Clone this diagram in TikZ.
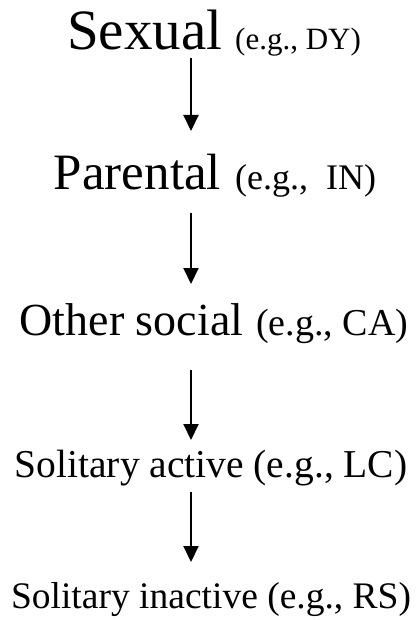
\documentclass[tikz,border=0pt]{standalone}
\usepackage{fontspec}
\setmainfont{Liberation Serif}
\usetikzlibrary{arrows.meta}
\newcommand{\fs}[1]{\fontsize{#1}{#1}\selectfont}

\begin{document}
\begin{tikzpicture}[x=1pt,y=-1pt,
  row/.style={anchor=base,inner sep=0pt},
  flow/.style={-{Triangle[length=16pt,width=15pt]},line width=2pt}]
        \useasboundingbox (0,0) rectangle (419,620);
        \coordinate (ax) at (191,0);
        \node[row] (sexual) at (214,50) {\fs{57}Sexual\hspace{13pt}\fs{31}(e.g., DY)};
        \node[row] (parental) at (215,190) {\fs{51}Parental\hspace{14pt}\fs{36}(e.g.,~~IN)};
        \node[row] (othersocial) at (214,335) {\fs{46}Other social\hspace{13pt}\fs{38}(e.g., CA)};
        \node[row] (solactive) at (211,477) {\fs{39.5}Solitary active (e.g., LC)};
        \node[row] (solinactive) at (211,608) {\fs{37.5}Solitary inactive (e.g., RS)};
        \draw[flow, shorten <=8pt, shorten >=59pt] (sexual.base -| ax) -- (parental.base -| ax);
        \draw[flow, shorten <=23pt, shorten >=51pt] (parental.base -| ax) -- (othersocial.base -| ax);
        \draw[flow, shorten <=35pt, shorten >=37pt] (othersocial.base -| ax) -- (solactive.base -| ax);
        \draw[flow, shorten <=15pt, shorten >=46pt] (solactive.base -| ax) -- (solinactive.base -| ax);
    \end{tikzpicture}
\end{document}
